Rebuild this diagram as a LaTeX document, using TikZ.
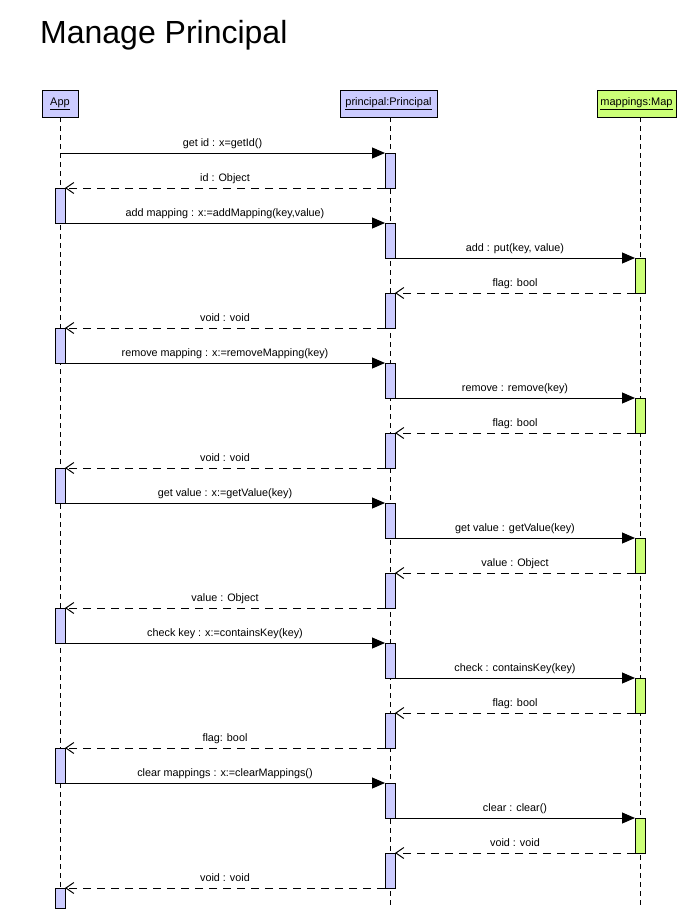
\documentclass[tikz,border=0pt]{standalone}
\usepackage{fontspec}
\setmainfont{Liberation Sans}
\usetikzlibrary{arrows.meta}
\definecolor{actblue}{RGB}{204,204,255}
\definecolor{actgreen}{RGB}{204,255,119}

\tikzset{
  lifeline/.style={draw, line width=1pt, dash pattern=on 5pt off 4pt},
  header/.style={draw, line width=1pt, minimum height=27pt, inner sep=1pt,
    outer sep=0pt, font=\fontsize{11}{13}\selectfont},
  actA/.style={draw, fill=actblue, line width=1pt, minimum width=10pt,
    minimum height=35pt, inner sep=0pt, outer sep=0pt, anchor=north},
  actM/.style={actA, fill=actgreen},
  call/.style={line width=1pt, -{Triangle[length=13pt,width=11pt]}},
  reply/.style={line width=1pt, dash pattern=on 8pt off 6pt,
    -{Straight Barb[length=8pt,width=11pt,line width=1pt]}},
  msg/.style={midway, anchor=base, yshift=7pt, inner sep=0pt,
    font=\fontsize{10.8}{13}\selectfont}
}

\begin{document}
\begin{tikzpicture}[x=1pt, y=-1pt]
\useasboundingbox (0,0) rectangle (700,919);

% title
\node[anchor=base west, inner sep=0pt, font=\fontsize{32}{38}\selectfont]
  (title) at (40,43) {Manage Principal};

% object headers
\node[header, fill=actblue, minimum width=36pt]  (app)  at (60,103.5)    {\underline{App}};
\node[header, fill=actblue, minimum width=97pt]  (prin) at (388.5,103.5) {\underline{principal:Principal}};
\node[header, fill=actgreen, minimum width=79pt] (map)  at (636.5,103.5) {\underline{mappings:Map}};

% lifelines
\coordinate (appTop)  at (60,117);
\coordinate (prinTop) at (390,117);
\coordinate (mapTop)  at (640,117);
\coordinate (appEnd)  at (60,888);
\coordinate (prinEnd) at (390,905);
\coordinate (mapEnd)  at (640,905);
\draw[lifeline] (appTop) -- (appEnd);
\draw[lifeline] (prinTop) -- (prinEnd);
\draw[lifeline] (mapTop) -- (mapEnd);

% activation bars
\node[actA] (p1)  at (390,153) {};
\node[actA] (a1)  at (60,188)  {};
\node[actA] (p2)  at (390,223) {};
\node[actM] (m1)  at (640,258) {};
\node[actA] (p3)  at (390,293) {};
\node[actA] (a2)  at (60,328)  {};
\node[actA] (p4)  at (390,363) {};
\node[actM] (m2)  at (640,398) {};
\node[actA] (p5)  at (390,433) {};
\node[actA] (a3)  at (60,468)  {};
\node[actA] (p6)  at (390,503) {};
\node[actM] (m3)  at (640,538) {};
\node[actA] (p7)  at (390,573) {};
\node[actA] (a4)  at (60,608)  {};
\node[actA] (p8)  at (390,643) {};
\node[actM] (m4)  at (640,678) {};
\node[actA] (p9)  at (390,713) {};
\node[actA] (a5)  at (60,748)  {};
\node[actA] (p10) at (390,783) {};
\node[actM] (m5)  at (640,818) {};
\node[actA] (p11) at (390,853) {};
\node[actA, minimum height=20pt] (a6) at (60,888) {};

% messages
\coordinate (appStart) at (60,153);
\draw[call]  (appStart) -- (p1.north west) node[msg] {get id : x=getId()};
\draw[reply] (p1.south west) -- (a1.north east) node[msg] {id : Object};

\draw[call]  (a1.south east) -- (p2.north west) node[msg] {add mapping : x:=addMapping(key,value)};
\draw[call]  (p2.south east) -- (m1.north west) node[msg] {add : put(key, value)};
\draw[reply] (m1.south west) -- (p3.north east) node[msg] {flag: bool};
\draw[reply] (p3.south west) -- (a2.north east) node[msg] {void : void};

\draw[call]  (a2.south east) -- (p4.north west) node[msg] {remove mapping : x:=removeMapping(key)};
\draw[call]  (p4.south east) -- (m2.north west) node[msg] {remove : remove(key)};
\draw[reply] (m2.south west) -- (p5.north east) node[msg] {flag: bool};
\draw[reply] (p5.south west) -- (a3.north east) node[msg] {void : void};

\draw[call]  (a3.south east) -- (p6.north west) node[msg] {get value : x:=getValue(key)};
\draw[call]  (p6.south east) -- (m3.north west) node[msg] {get value : getValue(key)};
\draw[reply] (m3.south west) -- (p7.north east) node[msg] {value : Object};
\draw[reply] (p7.south west) -- (a4.north east) node[msg] {value : Object};

\draw[call]  (a4.south east) -- (p8.north west) node[msg] {check key : x:=containsKey(key)};
\draw[call]  (p8.south east) -- (m4.north west) node[msg] {check : containsKey(key)};
\draw[reply] (m4.south west) -- (p9.north east) node[msg] {flag: bool};
\draw[reply] (p9.south west) -- (a5.north east) node[msg] {flag: bool};

\draw[call]  (a5.south east) -- (p10.north west) node[msg] {clear mappings : x:=clearMappings()};
\draw[call]  (p10.south east) -- (m5.north west) node[msg] {clear : clear()};
\draw[reply] (m5.south west) -- (p11.north east) node[msg] {void : void};
\draw[reply] (p11.south west) -- (a6.north east) node[msg] {void : void};
\end{tikzpicture}
\end{document}
